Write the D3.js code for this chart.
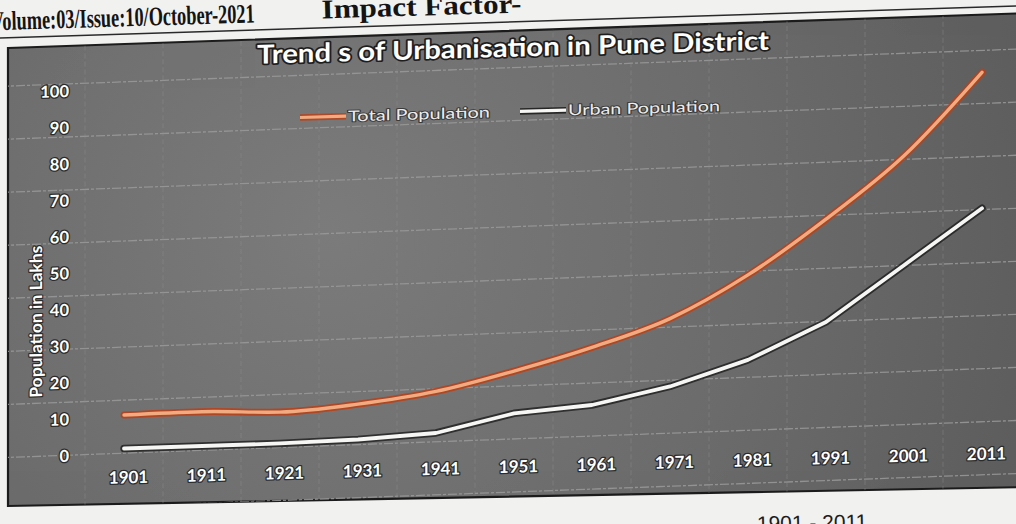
<!DOCTYPE html>
<html>
<head>
<meta charset="utf-8">
<script src="https://cdn.jsdelivr.net/npm/d3@7/dist/d3.min.js"></script>
<style>
  html, body { margin: 0; padding: 0; background: #f1f1f0; }
  svg { display: block; }
</style>
</head>
<body>
<svg id="chart" width="1016" height="524"></svg>
<script>
// Census years and population (lakhs) for Pune District
const years = ["1901", "1911", "1921", "1931", "1941", "1951", "1961", "1971", "1981", "1991", "2001", "2011"];
const totalPopulation = [10.8, 11.1, 10.4, 12.0, 14.9, 19.9, 25.8, 33.1, 44.5, 59.2, 76.0, 98.3];
const urbanPopulation = [1.6, 1.7, 1.8, 2.3, 3.5, 8.3, 10.0, 14.5, 21.2, 31.0, 46.0, 61.0];
const yTickValues = [0, 10, 20, 30, 40, 50, 60, 70, 80, 90, 100];
const seriesNames = ["Total Population", "Urban Population"];
const chartTitle = "Trend s of Urbanisation in Pune District";
const yAxisTitle = "Population in Lakhs";

const svg = d3.select("#chart");
const defs = svg.append("defs");

// soft lighting across the grey chart panel
const grad = defs.append("radialGradient")
  .attr("id", "panelFill").attr("gradientUnits", "userSpaceOnUse")
  .attr("cx", 330).attr("cy", 230).attr("r", 780);
grad.append("stop").attr("offset", "0%").attr("stop-color", "#7b7b7b");
grad.append("stop").attr("offset", "55%").attr("stop-color", "#6b6b6b");
grad.append("stop").attr("offset", "100%").attr("stop-color", "#5a5a5a");

const panelPts = [[8, 48], [1030, 13], [1030, 487], [8, 506]];
defs.append("clipPath").attr("id", "panelClip")
  .append("polygon").attr("points", panelPts.map(p => p.join(",")).join(" "));

// journal page header
const header = svg.append("g").attr("transform", "rotate(-1.7, 0, 30)")
  .style("font-family", "'Liberation Serif', 'DejaVu Serif', serif")
  .style("font-weight", "bold").attr("fill", "#141414");
header.append("text").attr("x", -9).attr("y", 30).attr("font-size", 27)
  .attr("textLength", 264).attr("lengthAdjust", "spacingAndGlyphs")
  .text("Volume:03/Issue:10/October-2021");
header.append("text").attr("x", 322).attr("y", 28).attr("font-size", 27)
  .attr("textLength", 200).attr("lengthAdjust", "spacingAndGlyphs")
  .text("Impact Factor-");

svg.append("line").attr("x1", 0).attr("y1", 38).attr("x2", 1016).attr("y2", 6)
  .attr("stroke", "#2a2a2a").attr("stroke-width", 1.6);

// chart panel
svg.append("polygon").attr("points", panelPts.map(p => p.join(",")).join(" "))
  .attr("fill", "url(#panelFill)").attr("stroke", "#1c1c1c").attr("stroke-width", 2.2);

const g = svg.append("g").attr("clip-path", "url(#panelClip)")
  .append("g").attr("transform", "translate(63,0) skewY(-1.575) translate(-63,0)");

const x = d3.scalePoint().domain(years).range([124, 982]);
const y = d3.scaleLinear().domain([0, 100]).range([456, 91.4]);
const step = x.step();

// background grid
const gridValues = d3.range(-14.55, 125, 14.55);
g.append("g").selectAll("line").data(gridValues).join("line")
  .attr("x1", 0).attr("x2", 1040)
  .attr("y1", d => y(d)).attr("y2", d => y(d) - 9.5)
  .attr("stroke", "#9a9a9a").attr("stroke-width", 1.3)
  .attr("stroke-dasharray", "9,2,3,2").attr("opacity", 0.85);
const vEdges = years.map(d => x(d) - step / 2).concat([x(years[years.length - 1]) + step / 2]);
g.append("g").selectAll("line").data(vEdges).join("line")
  .attr("x1", d => d).attr("x2", d => d).attr("y1", 30).attr("y2", 520)
  .attr("stroke", "#8e8e8e").attr("stroke-width", 1).attr("opacity", 0.45)
  .attr("stroke-dasharray", "5,3");

function outlineText(sel, w, col) {
  sel.attr("fill", "#ffffff").attr("stroke", col || "#2b2b2b")
    .attr("stroke-width", w).attr("paint-order", "stroke")
    .attr("stroke-linejoin", "round");
}

// y axis
const yAxis = g.append("g").attr("transform", "translate(71,0)")
  .call(d3.axisLeft(y).tickValues(yTickValues).tickSize(0).tickPadding(2));
yAxis.select(".domain").remove();
yAxis.selectAll("text").style("font-family", "Lato, 'Open Sans', sans-serif")
  .style("font-size", "16.5px").style("font-weight", "bold").call(outlineText, 2.6);

// x axis
const xAxis = g.append("g").attr("transform", "translate(4,473)")
  .call(d3.axisBottom(x).tickSize(0).tickPadding(0));
xAxis.select(".domain").remove();
xAxis.selectAll("text").style("font-family", "Lato, 'Open Sans', sans-serif")
  .style("font-size", "17px").style("font-weight", "bold").call(outlineText, 2.6);

// axis title
g.append("text").attr("transform", "translate(36,321) rotate(-90)")
  .attr("text-anchor", "middle").attr("dominant-baseline", "central")
  .style("font-family", "Lato, 'Open Sans', sans-serif").style("font-size", "17px")
  .style("font-weight", "bold").attr("textLength", 152).attr("lengthAdjust", "spacingAndGlyphs")
  .text(yAxisTitle).call(outlineText, 2.4);

// chart title
g.append("text").attr("x", 513).attr("y", 69).attr("text-anchor", "middle")
  .style("font-family", "Lato, 'Open Sans', sans-serif").style("font-size", "26px")
  .style("font-weight", "bold").attr("textLength", 512).attr("lengthAdjust", "spacingAndGlyphs")
  .text(chartTitle).call(outlineText, 3.4, "#1e1e1e");

// series lines
const lineTotal = d3.line().x((d, i) => x(years[i])).y(d => y(d)).curve(d3.curveMonotoneX);
const lineUrban = d3.line().x((d, i) => x(years[i])).y(d => y(d));

g.append("path").datum(urbanPopulation).attr("d", lineUrban).attr("fill", "none")
  .attr("stroke", "#1a1a1a").attr("stroke-width", 7.5).attr("opacity", 0.75)
  .attr("stroke-linecap", "round").attr("stroke-linejoin", "round");
g.append("path").datum(urbanPopulation).attr("d", lineUrban).attr("fill", "none")
  .attr("stroke", "#f6f6f4").attr("stroke-width", 3.8)
  .attr("stroke-linecap", "round").attr("stroke-linejoin", "round");

g.append("path").datum(totalPopulation).attr("d", lineTotal).attr("fill", "none")
  .attr("stroke", "#b4431e").attr("stroke-width", 7).attr("opacity", 0.9)
  .attr("stroke-linecap", "round");
g.append("path").datum(totalPopulation).attr("d", lineTotal).attr("fill", "none")
  .attr("stroke", "#f2ab80").attr("stroke-width", 3.4).attr("stroke-linecap", "round");

// legend
const legend = g.append("g").style("font-family", "Lato, 'Open Sans', sans-serif")
  .style("font-size", "15px");
const legendItems = [
  { name: seriesNames[0], x0: 300, outer: "#b4431e", inner: "#f2ab80", textW: 142 },
  { name: seriesNames[1], x0: 520, outer: "#1a1a1a", inner: "#f6f6f4", textW: 152 }
];
legendItems.forEach(item => {
  legend.append("line").attr("x1", item.x0).attr("x2", item.x0 + 46)
    .attr("y1", 124).attr("y2", 124).attr("stroke", item.outer).attr("stroke-width", 6.5)
    .attr("opacity", 0.85);
  legend.append("line").attr("x1", item.x0).attr("x2", item.x0 + 46)
    .attr("y1", 124).attr("y2", 124).attr("stroke", item.inner).attr("stroke-width", 3.2);
  legend.append("text").attr("x", item.x0 + 48).attr("y", 124).attr("dy", "0.35em")
    .attr("textLength", item.textW).attr("lengthAdjust", "spacingAndGlyphs")
    .text(item.name).call(outlineText, 2, "#3a3a3a").attr("fill", "#ececec");
});

// figure caption below the panel
svg.append("text").attr("x", 757).attr("y", 531)
  .style("font-family", "'Liberation Sans', Arial, sans-serif").style("font-size", "21px")
  .attr("fill", "#1c1c1c").attr("transform", "rotate(-1.2, 757, 531)")
  .text("1901 - 2011");
</script>
</body>
</html>
